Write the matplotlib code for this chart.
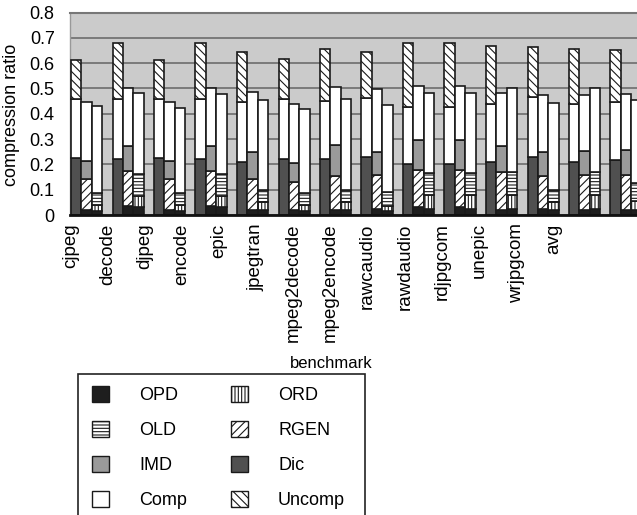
import matplotlib
matplotlib.use("Agg")
import matplotlib.pyplot as plt
from matplotlib.patches import Patch, Rectangle
import numpy as np

plt.rcParams['font.family'] = ['Liberation Sans', 'DejaVu Sans']
plt.rcParams['hatch.linewidth'] = 0.8

benchmarks = ["cjpeg", "decode", "djpeg", "encode", "epic", "jpegtran",
              "mpeg2decode", "mpeg2encode", "rawcaudio", "rawdaudio",
              "rdjpgcom", "unepic", "wrjpgcom", "avg"]

# first bar of each group: Dic / Comp / Uncomp
dic_1 = [0.225, 0.220, 0.225, 0.220, 0.210, 0.221, 0.221, 0.228, 0.203, 0.203, 0.210, 0.230, 0.210, 0.217]
comp_1 = [0.232, 0.237, 0.232, 0.237, 0.238, 0.236, 0.231, 0.233, 0.225, 0.225, 0.229, 0.238, 0.227, 0.231]
uncomp_1 = [0.156, 0.224, 0.156, 0.224, 0.197, 0.158, 0.203, 0.184, 0.252, 0.252, 0.229, 0.195, 0.219, 0.204]

# second bar: OPD / RGEN / IMD / Comp
opd_2 = [0.020, 0.035, 0.020, 0.035, 0.020, 0.020, 0.020, 0.025, 0.030, 0.030, 0.020, 0.025, 0.020, 0.020]
rgen_2 = [0.122, 0.139, 0.122, 0.139, 0.121, 0.112, 0.134, 0.133, 0.148, 0.148, 0.149, 0.129, 0.138, 0.138]
imd_2 = [0.073, 0.099, 0.073, 0.099, 0.109, 0.073, 0.121, 0.092, 0.117, 0.117, 0.103, 0.096, 0.094, 0.100]
comp_2 = [0.233, 0.227, 0.233, 0.227, 0.235, 0.232, 0.230, 0.247, 0.215, 0.215, 0.211, 0.224, 0.222, 0.220]

# third bar: OPD / ORD / OLD / Comp
opd_3 = [0.015, 0.030, 0.015, 0.030, 0.020, 0.015, 0.020, 0.015, 0.025, 0.025, 0.025, 0.020, 0.025, 0.020]
ord_3 = [0.025, 0.046, 0.025, 0.046, 0.030, 0.025, 0.030, 0.020, 0.055, 0.055, 0.055, 0.033, 0.055, 0.035]
old_3 = [0.048, 0.086, 0.048, 0.086, 0.049, 0.046, 0.049, 0.055, 0.085, 0.085, 0.090, 0.047, 0.090, 0.070]
comp_3 = [0.342, 0.319, 0.336, 0.316, 0.356, 0.332, 0.359, 0.345, 0.318, 0.318, 0.330, 0.341, 0.330, 0.330]

EDGE = '#1a1a1a'
styles = {
    'OPD':    dict(facecolor='#1e1e1e', hatch=None),
    'OLD':    dict(facecolor='white', hatch='-----'),
    'IMD':    dict(facecolor='#9a9a9a', hatch=None),
    'Comp':   dict(facecolor='white', hatch=None),
    'ORD':    dict(facecolor='white', hatch='|||||'),
    'RGEN':   dict(facecolor='white', hatch='////'),
    'Dic':    dict(facecolor='#505050', hatch=None),
    'Uncomp': dict(facecolor='white', hatch='\\\\\\\\'),
}

W, H = 637, 515
fig = plt.figure(figsize=(W / 100, H / 100), dpi=100)

ax_left, ax_right = 70, 648
ax_top, ax_bot = 12.5, 215
rect = [ax_left / W, 1 - ax_bot / H, (ax_right - ax_left) / W, (ax_bot - ax_top) / H]
ax = fig.add_axes(rect)
ax.set_facecolor('#cbcbcb')
ax.set_axisbelow(True)

x = np.arange(len(benchmarks))
bw = 0.25

def stack(xpos, segments):
    bottom = np.zeros(len(xpos))
    for name, vals in segments:
        st = styles[name]
        ax.bar(xpos, vals, bw, bottom=bottom, align='edge',
               facecolor=st['facecolor'], hatch=st['hatch'],
               edgecolor=EDGE, linewidth=1.2, zorder=3)
        bottom = bottom + np.asarray(vals)

stack(x, [('Dic', dic_1), ('Comp', comp_1), ('Uncomp', uncomp_1)])
stack(x + bw, [('OPD', opd_2), ('RGEN', rgen_2), ('IMD', imd_2), ('Comp', comp_2)])
stack(x + 2 * bw, [('OPD', opd_3), ('ORD', ord_3), ('OLD', old_3), ('Comp', comp_3)])

ax.set_xlim(-1 / 41.5, (ax_right - 71) / 41.5)
ax.set_ylim(0, 0.8)
yt = np.round(np.arange(0, 0.81, 0.1), 1)
ax.set_yticks(yt)
ax.set_yticklabels(['0' if v == 0 else f'{v:.1f}' for v in yt], fontsize=13)
ax.tick_params(axis='y', length=0, pad=11)
ax.set_xticks([])
ax.yaxis.grid(True, color='#7a7a7a', linewidth=1.4)
ax.spines['right'].set_visible(False)
ax.spines['top'].set_color('#777777')
ax.spines['top'].set_linewidth(1.5)
ax.spines['left'].set_color('#999999')
ax.spines['left'].set_linewidth(1.0)
ax.spines['bottom'].set_color('#111111')
ax.spines['bottom'].set_linewidth(2.0)
ax.spines['bottom'].set_zorder(4)

# category labels along the bottom
ax_lab = fig.add_axes(rect, frameon=False)
ax_lab.patch.set_visible(False)
pitch = 37.15
ax_lab.set_xlim((ax_left - 70.5) / pitch, (ax_right - 70.5) / pitch)
ax_lab.set_xticks(np.arange(len(benchmarks)))
ax_lab.set_xticklabels(benchmarks, rotation=90, fontsize=13.5, va='top', ha='center')
ax_lab.tick_params(axis='x', length=0, pad=6)
ax_lab.set_yticks([])

fig.text(331 / W, 1 - 364 / H, 'benchmark', ha='center', va='center', fontsize=12)
fig.text(12 / W, 1 - 115 / H, 'compression ratio', rotation=90,
         ha='center', va='center', fontsize=13)

# legend
order = ['OPD', 'OLD', 'IMD', 'Comp', 'ORD', 'RGEN', 'Dic', 'Uncomp']
handles = [Patch(facecolor=styles[n]['facecolor'], hatch=styles[n]['hatch'],
                 edgecolor=EDGE, linewidth=1.0, label=n) for n in order]
fig.legend(handles=handles, ncol=2, loc='upper left',
           bbox_to_anchor=(92 / W, 1 - 386 / H), frameon=False,
           fontsize=13, borderpad=0, borderaxespad=0,
           handlelength=0.95, handleheight=0.95, handletextpad=1.65,
           columnspacing=2.45, labelspacing=0.95)
fig.patches.append(Rectangle((78 / W, -0.05), (365 - 78) / W, (1 - 374 / H) + 0.05,
                             transform=fig.transFigure, fill=False,
                             edgecolor='#222222', linewidth=1.2))

fig.savefig('out.png', dpi=100)
